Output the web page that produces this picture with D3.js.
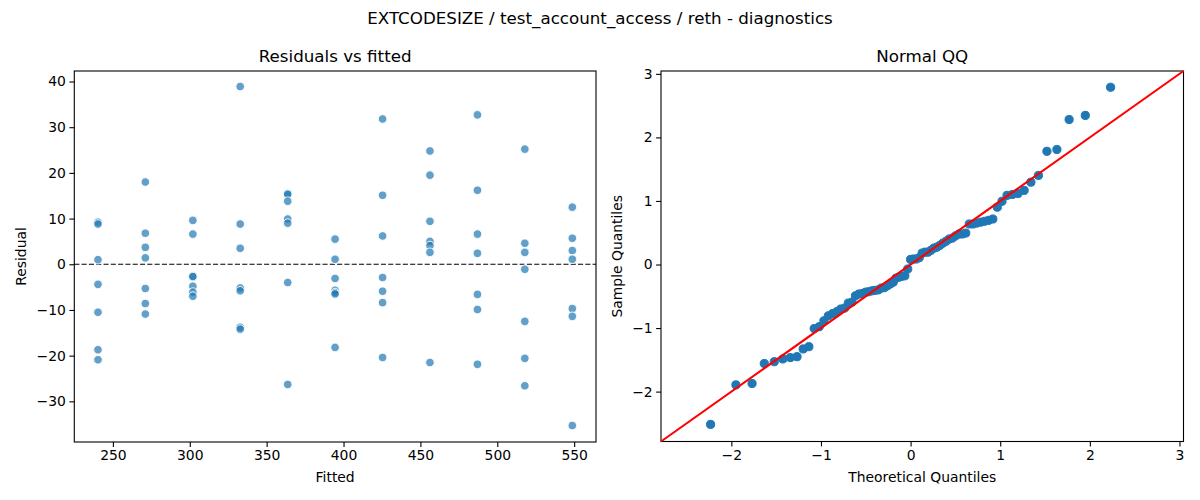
<!DOCTYPE html>
<html>
<head>
<meta charset="utf-8">
<script src="https://cdn.jsdelivr.net/npm/d3@7"></script>
<style>
  body { margin: 0; background: #fff; }
  svg text { font-family: "DejaVu Sans", sans-serif; fill: #000; }
</style>
</head>
<body>
<div id="chart"></div>
<script>
// fitted value of each group (x positions of the residual columns)
const fittedValues = [240.3, 271.1, 302.0, 332.8, 363.7, 394.5, 425.4, 456.2, 487.1, 517.9, 548.8];

// residuals, one list per fitted value
const residualsByFit = [
   [9.2, 8.8, 1.0, -4.4, -10.5, -18.7, -20.9],
   [18.0, 6.8, 3.7, 1.4, -5.3, -8.6, -10.9],
   [9.6, 6.6, -2.6, -2.7, -4.8, -6.1, -7.0],
   [38.9, 8.8, 3.5, -5.2, -5.8, -13.8, -14.2],
   [15.5, 15.3, 13.8, 9.9, 9.0, -4.0, -26.3],
   [5.5, 1.1, -3.1, -5.7, -6.2, -6.5, -18.2],
   [31.8, 15.1, 6.2, -2.9, -5.9, -8.4, -20.4],
   [24.8, 19.5, 9.4, 5.0, 4.1, 2.6, -21.5],
   [32.7, 16.2, 6.6, 2.4, -6.6, -9.9, -21.9],
   [25.2, 4.6, 2.6, -1.1, -12.5, -20.6, -26.6],
   [12.5, 5.7, 3.0, 1.1, -9.7, -11.4, -35.3]
];

const fittedTicks = [250, 300, 350, 400, 450, 500, 550];
const residualTicks = [-30, -20, -10, 0, 10, 20, 30, 40];
const qqTicks = [-2, -1, 0, 1, 2, 3];

const suptitle = 'EXTCODESIZE / test_account_access / reth - diagnostics';

// inverse standard normal cdf (Acklam)
function normInv(p) {
   const a = [-39.69683028665376, 220.9460984245205, -275.9285104469687, 138.3577518672690, -30.66479806614716, 2.506628277459239];
   const b = [-54.47609879822406, 161.5858368580409, -155.6989798598866, 66.80131188771972, -13.28068155288572];
   const c = [-0.007784894002430293, -0.3223964580411365, -2.400758277161838, -2.549732539343734, 4.374664141464968, 2.938163982698783];
   const d = [0.007784695709041462, 0.3224671290700398, 2.445134137142996, 3.754408661907416];
   const pl = 0.02425;
   let q, r;
   if (p < pl) {
      q = Math.sqrt(-2 * Math.log(p));
      return (((((c[0]*q+c[1])*q+c[2])*q+c[3])*q+c[4])*q+c[5]) / ((((d[0]*q+d[1])*q+d[2])*q+d[3])*q+1);
   } else if (p <= 1 - pl) {
      q = p - 0.5; r = q * q;
      return (((((a[0]*r+a[1])*r+a[2])*r+a[3])*r+a[4])*r+a[5])*q / (((((b[0]*r+b[1])*r+b[2])*r+b[3])*r+b[4])*r+1);
   } else {
      q = Math.sqrt(-2 * Math.log(1 - p));
      return -(((((c[0]*q+c[1])*q+c[2])*q+c[3])*q+c[4])*q+c[5]) / ((((d[0]*q+d[1])*q+d[2])*q+d[3])*q+1);
   }
}

const width = 1200, height = 500;
const svg = d3.select('#chart').append('svg')
   .attr('width', width)
   .attr('height', height);

svg.append('text')
   .attr('x', 600).attr('y', 24)
   .attr('text-anchor', 'middle')
   .style('font-size', '16.7px')
   .text(suptitle);

const intFormat = d3.format('d');

function drawAxes(x, y, xTicks, yTicks, title, xLabel, yLabel, yLabelX) {
   const [x0, x1] = x.range();
   const [y0, y1] = y.range();
   const g = svg.append('g');

   const xAxis = g.append('g')
      .attr('transform', `translate(0,${y0})`)
      .call(d3.axisBottom(x).tickValues(xTicks).tickFormat(intFormat)
         .tickSize(4.9).tickPadding(3.5).tickSizeOuter(0));
   const yAxis = g.append('g')
      .attr('transform', `translate(${x0},0)`)
      .call(d3.axisLeft(y).tickValues(yTicks).tickFormat(intFormat)
         .tickSize(4.9).tickPadding(3.5).tickSizeOuter(0));
   for (const ax of [xAxis, yAxis]) {
      ax.select('.domain').remove();
      ax.attr('font-family', null).attr('font-size', null);
      ax.selectAll('.tick line').attr('stroke', '#000').attr('stroke-width', 1.1);
      ax.selectAll('.tick text').style('font-size', '13.9px');
   }

   g.append('rect')
      .attr('x', x0).attr('y', y1)
      .attr('width', x1 - x0).attr('height', y0 - y1)
      .attr('fill', 'none').attr('stroke', '#000').attr('stroke-width', 1.1);

   g.append('text')
      .attr('x', (x0 + x1) / 2).attr('y', y1 - 9)
      .attr('text-anchor', 'middle')
      .style('font-size', '16.7px')
      .text(title);

   g.append('text')
      .attr('x', (x0 + x1) / 2).attr('y', y0 + 40)
      .attr('text-anchor', 'middle')
      .style('font-size', '13.9px')
      .text(xLabel);

   g.append('text')
      .attr('transform', `translate(${yLabelX},${(y0 + y1) / 2}) rotate(-90)`)
      .attr('text-anchor', 'middle')
      .style('font-size', '13.9px')
      .text(yLabel);
}

// ---- residuals vs fitted ----
const xL = d3.scaleLinear().domain([224.9, 564.2]).range([74.3, 596]);
const yL = d3.scaleLinear().domain([-38.9, 42.3]).range([442, 71]);

drawAxes(xL, yL, fittedTicks, residualTicks, 'Residuals vs fitted', 'Fitted', 'Residual', 26);

svg.append('line')
   .attr('x1', xL.range()[0]).attr('x2', xL.range()[1])
   .attr('y1', yL(0)).attr('y2', yL(0))
   .attr('stroke', '#000').attr('stroke-width', 1.1)
   .attr('stroke-dasharray', '5.1,2.2');

const points = [];
fittedValues.forEach((f, i) => {
   residualsByFit[i].forEach(r => points.push({ fitted: f, resid: r }));
});

svg.append('g').selectAll('circle')
   .data(points)
   .enter()
   .append('circle')
   .attr('cx', d => xL(d.fitted))
   .attr('cy', d => yL(d.resid))
   .attr('r', 4.3)
   .attr('fill', '#1f77b4')
   .attr('fill-opacity', 0.7)
   .attr('stroke', '#fff')
   .attr('stroke-width', 0.9);

// ---- normal QQ ----
const allResid = points.map(d => d.resid).sort(d3.ascending);
const n = allResid.length;
const mean = d3.mean(allResid);
const sd = Math.sqrt(d3.mean(allResid, v => (v - mean) * (v - mean)));
const qqData = allResid.map((v, i) => ({
   theo: normInv((i + 1) / (n + 1)),
   sample: (v - mean) / sd
}));

const qqLim = [-2.785, 3.045];
const xQ = d3.scaleLinear().domain(qqLim).range([661, 1183.5]);
const yQ = d3.scaleLinear().domain(qqLim).range([441.5, 71]);

drawAxes(xQ, yQ, qqTicks, qqTicks, 'Normal QQ', 'Theoretical Quantiles', 'Sample Quantiles', 622);

svg.append('g').selectAll('circle')
   .data(qqData)
   .enter()
   .append('circle')
   .attr('cx', d => xQ(d.theo))
   .attr('cy', d => yQ(d.sample))
   .attr('r', 4.1)
   .attr('fill', '#1f77b4')
   .attr('stroke', '#1f77b4')
   .attr('stroke-width', 1);

svg.append('line')
   .attr('x1', xQ(qqLim[0])).attr('y1', yQ(qqLim[0]))
   .attr('x2', xQ(qqLim[1])).attr('y2', yQ(qqLim[1]))
   .attr('stroke', '#ff0000')
   .attr('stroke-width', 2.1);
</script>
</body>
</html>
